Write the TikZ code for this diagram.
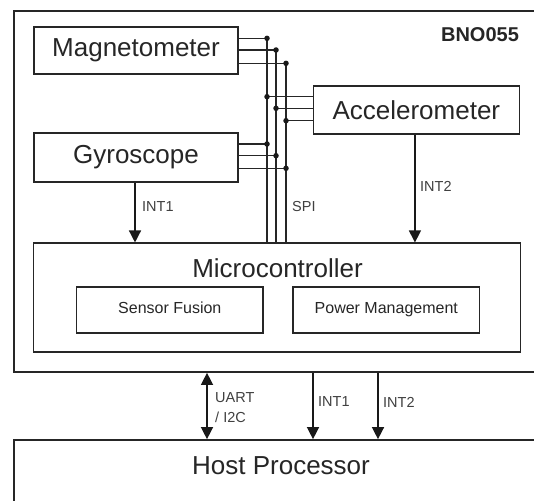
\documentclass[tikz,border=0pt]{standalone}
\usepackage{fontspec}
\setmainfont{Liberation Sans}
\usetikzlibrary{arrows.meta}
\begin{document}
\begin{tikzpicture}[x=1pt,y=-1pt,
  box/.style={draw=black!85, line width=1.7pt, inner sep=0pt},
  big/.style={font=\fontsize{26}{28}\selectfont, text=black!85},
  small/.style={font=\fontsize{16}{18}\selectfont, text=black!85, text height=0.72em, text depth=0em},
  bus/.style={draw=black!85, line width=1.3pt},
  jdot/.style={circle, fill=black!90, inner sep=0pt, minimum size=5.5pt},
  arr/.style={draw=black!90, line width=1.4pt, -{Triangle[width=12pt,length=12pt]}},
  darr/.style={draw=black!90, line width=1.4pt, {Triangle[width=12pt,length=12pt]}-{Triangle[width=12pt,length=12pt]}},
  lbl/.style={font=\fontsize{14.5}{20}\selectfont, anchor=west, inner sep=0pt, text=black!75, align=left}
]
\clip (0,0) rectangle (534,500);
\fill[white] (0,0) rectangle (534,500);

% outer BNO055 box and host
\node[box, minimum width=546pt, minimum height=361pt] (bno) at (287,191.5) {};
\node[font=\bfseries\fontsize{20}{22}\selectfont, text=black!85] (bnotxt) at (480,35) {BNO055};
\node[box, minimum width=546pt, minimum height=120pt] (host) at (287,500) {};
\node[big] (hosttxt) at (281,466) {Host Processor};

% sensors
\node[box, big, minimum width=204pt, minimum height=47.3pt] (mag) at (136,50.35) {Magnetometer};
\node[box, big, minimum width=206pt, minimum height=48pt] (acc) at (416.35,110) {Accelerometer};
\node[box, big, minimum width=204pt, minimum height=48.4pt] (gyr) at (136,157.5) {Gyroscope};

% microcontroller
\node[box, minimum width=487pt, minimum height=109pt] (mc) at (276.9,297.8) {};
\node[big] (mctxt) at (277.5,268) {Microcontroller};
\node[box, small, minimum width=186.4pt, minimum height=46pt] (sf) at (169.8,310) {Sensor Fusion};
\node[box, small, minimum width=186.6pt, minimum height=46pt] (pm) at (386.3,310) {Power Management};

% bus junctions
\coordinate (m1) at (267,38.3);
\coordinate (m2) at (276,50);
\coordinate (m3) at (286,63.3);
\coordinate (a1) at (267,96.7);
\coordinate (a2) at (276,108.3);
\coordinate (a3) at (286,120.7);
\coordinate (g1) at (267,144);
\coordinate (g2) at (276,155.7);
\coordinate (g3) at (286,168.3);

\foreach \p in {m1,m2,m3,g1,g2,g3} \draw[bus] (\p -| mag.east) -- (\p);
\foreach \p in {a1,a2,a3} \draw[bus] (\p) -- (\p -| acc.west);
\foreach \p in {m1,m2,m3} \draw[bus] (\p) -- (\p |- mc.north);
\foreach \p in {m1,m2,m3,a1,a2,a3,g1,g2,g3} \node[jdot] at (\p) {};

% interrupts inside
\draw[arr] ([xshift=-1pt]gyr.south) -- ([xshift=-1pt]gyr.south |- mc.north);
\draw[arr] ([xshift=-1.4pt]acc.south) -- ([xshift=-1.4pt]acc.south |- mc.north);
\node[lbl] (l1) at (142,207) {INT1};
\node[lbl] (l2) at (292,207) {SPI};
\node[lbl] (l3) at (420,186) {INT2};

% host links
\coordinate (ua) at (207,0);
\coordinate (ib1) at (313,0);
\coordinate (ib2) at (378,0);
\draw[darr] (ua |- bno.south) -- (ua |- host.north);
\draw[arr] (ib1 |- bno.south) -- (ib1 |- host.north);
\draw[arr] (ib2 |- bno.south) -- (ib2 |- host.north);
\node[lbl] (l4) at (215,407.5) {UART\\/ I2C};
\node[lbl] (l5) at (318,402) {INT1};
\node[lbl] (l6) at (383,402) {INT2};
\end{tikzpicture}
\end{document}
